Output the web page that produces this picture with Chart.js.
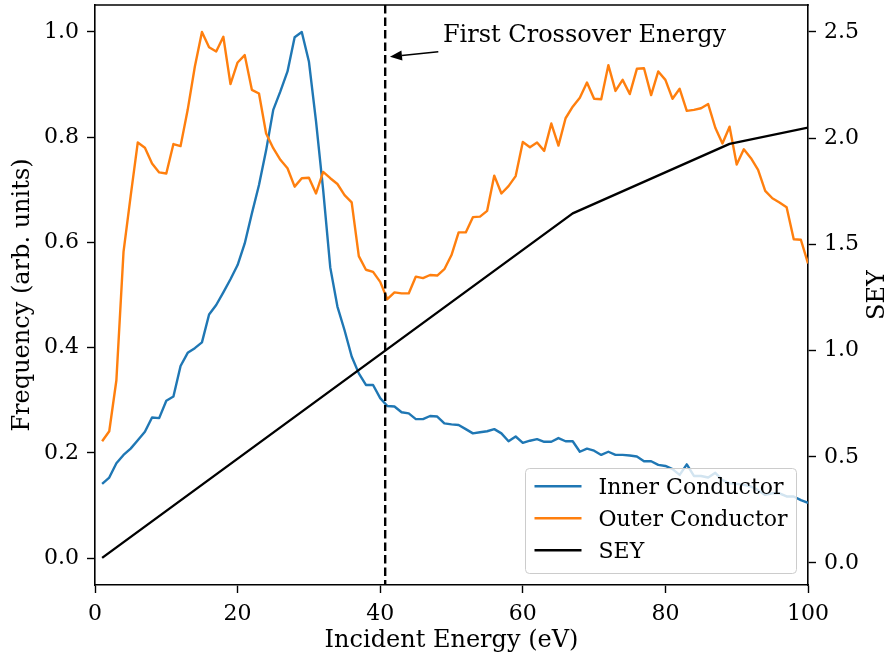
<!DOCTYPE html>
<html>
<head>
<meta charset="utf-8">
<script src="https://cdn.jsdelivr.net/npm/chart.js@4.4.1/dist/chart.umd.min.js"></script>
<style>
  html, body { margin: 0; padding: 0; background: #ffffff; }
  #wrap { width: 891px; height: 657px; }
</style>
</head>
<body>
<div id="wrap"><canvas id="chart" width="891" height="657"></canvas></div>
<script>
// Incident energies (eV) of the electron-frequency histograms
const energies = [
  1, 2, 3, 4, 5, 6, 7, 8, 9, 10,
  11, 12, 13, 14, 15, 16, 17, 18, 19, 20,
  21, 22, 23, 24, 25, 26, 27, 28, 29, 30,
  31, 32, 33, 34, 35, 36, 37, 38, 39, 40,
  41, 42, 43, 44, 45, 46, 47, 48, 49, 50,
  51, 52, 53, 54, 55, 56, 57, 58, 59, 60,
  61, 62, 63, 64, 65, 66, 67, 68, 69, 70,
  71, 72, 73, 74, 75, 76, 77, 78, 79, 80,
  81, 82, 83, 84, 85, 86, 87, 88, 89, 90,
  91, 92, 93, 94, 95, 96, 97, 98, 99, 100
];

// Normalised impact frequency on the inner conductor
const innerConductor = [
  0.141, 0.153, 0.180, 0.196, 0.208, 0.224, 0.240, 0.267, 0.266, 0.299,
  0.307, 0.365, 0.390, 0.399, 0.410, 0.463, 0.481, 0.505, 0.530, 0.557,
  0.598, 0.655, 0.709, 0.775, 0.852, 0.887, 0.925, 0.990, 1.000, 0.944,
  0.830, 0.700, 0.552, 0.478, 0.433, 0.383, 0.351, 0.329, 0.329, 0.304,
  0.289, 0.288, 0.277, 0.275, 0.264, 0.264, 0.270, 0.269, 0.256, 0.254,
  0.253, 0.245, 0.237, 0.239, 0.241, 0.245, 0.237, 0.222, 0.231, 0.219,
  0.223, 0.226, 0.221, 0.221, 0.228, 0.222, 0.222, 0.202, 0.208, 0.204,
  0.196, 0.202, 0.196, 0.196, 0.195, 0.193, 0.184, 0.184, 0.177, 0.175,
  0.169, 0.158, 0.178, 0.156, 0.156, 0.153, 0.162, 0.148, 0.142, 0.141,
  0.139, 0.136, 0.129, 0.120, 0.123, 0.123, 0.117, 0.117, 0.110, 0.105
];

// Normalised impact frequency on the outer conductor
const outerConductor = [
  0.222, 0.241, 0.338, 0.582, 0.688, 0.790, 0.780, 0.750, 0.733, 0.731,
  0.787, 0.783, 0.852, 0.934, 1.000, 0.971, 0.963, 0.991, 0.901, 0.942,
  0.956, 0.890, 0.883, 0.807, 0.779, 0.757, 0.741, 0.706, 0.722, 0.723,
  0.693, 0.734, 0.722, 0.711, 0.690, 0.676, 0.574, 0.548, 0.544, 0.525,
  0.492, 0.505, 0.503, 0.503, 0.535, 0.532, 0.538, 0.537, 0.549, 0.576,
  0.619, 0.619, 0.648, 0.649, 0.660, 0.727, 0.693, 0.707, 0.726, 0.791,
  0.781, 0.790, 0.774, 0.826, 0.784, 0.836, 0.858, 0.875, 0.904, 0.873,
  0.872, 0.937, 0.888, 0.909, 0.882, 0.930, 0.931, 0.880, 0.925, 0.909,
  0.873, 0.892, 0.850, 0.852, 0.855, 0.863, 0.818, 0.788, 0.820, 0.748,
  0.777, 0.760, 0.738, 0.698, 0.684, 0.676, 0.667, 0.606, 0.605, 0.560
];

// Secondary electron yield curve (piecewise linear model)
const seyEnergies = [1, 67, 89, 100];
const seyValues = [0.024, 1.646, 1.973, 2.050];

// Tick positions
const energyTicks = [0, 20, 40, 60, 80, 100];
const frequencyTicks = [0.0, 0.2, 0.4, 0.6, 0.8, 1.0];
const seyTicks = [0.0, 0.5, 1.0, 1.5, 2.0, 2.5];

// Energy where the SEY first reaches unity
const crossoverEnergy = 40.7;

const seriesLabels = ['Inner Conductor', 'Outer Conductor', 'SEY'];
const seriesColors = ['#1f77b4', '#ff7f0e', '#000000'];

const FONT = "'DejaVu Serif', 'Liberation Serif', serif";
const TICK_SIZE = 22;
const LEGEND_SIZE = 22;
const LABEL_SIZE = 24;

Chart.defaults.font.family = FONT;
Chart.defaults.color = '#000000';

const toPoints = (xs, ys) => xs.map((x, i) => ({ x: x, y: ys[i] }));

// Draws the top spine, the crossover marker with its note, the right-hand
// axis title and a boxed legend in the lower right of the plot area.
const decorations = {
  id: 'decorations',
  afterDatasetsDraw(chart) {
    const { ctx, chartArea: a, scales } = chart;
    const x = scales.x, y = scales.y;
    ctx.save();

    // top spine
    ctx.strokeStyle = '#000';
    ctx.lineWidth = 1.6;
    ctx.beginPath();
    ctx.moveTo(a.left - 0.8, a.top);
    ctx.lineTo(a.right + 0.8, a.top);
    ctx.stroke();

    // crossover marker
    const cx = x.getPixelForValue(crossoverEnergy);
    ctx.setLineDash([8.5, 4]);
    ctx.lineWidth = 2.4;
    ctx.beginPath();
    ctx.moveTo(cx, a.top);
    ctx.lineTo(cx, a.bottom);
    ctx.stroke();
    ctx.setLineDash([]);

    // note arrow
    const fromX = x.getPixelForValue(48.15), fromY = y.getPixelForValue(0.9625);
    const toX = x.getPixelForValue(41.37), toY = y.getPixelForValue(0.953);
    const ang = Math.atan2(toY - fromY, toX - fromX);
    const headLen = 12, headHalf = 5;
    const baseX = toX - headLen * Math.cos(ang), baseY = toY - headLen * Math.sin(ang);
    ctx.lineWidth = 1.4;
    ctx.beginPath();
    ctx.moveTo(fromX, fromY);
    ctx.lineTo(baseX, baseY);
    ctx.stroke();
    ctx.fillStyle = '#000';
    ctx.beginPath();
    ctx.moveTo(toX, toY);
    ctx.lineTo(baseX + headHalf * Math.sin(ang), baseY - headHalf * Math.cos(ang));
    ctx.lineTo(baseX - headHalf * Math.sin(ang), baseY + headHalf * Math.cos(ang));
    ctx.closePath();
    ctx.fill();

    // note text
    ctx.font = LABEL_SIZE + 'px ' + FONT;
    ctx.textAlign = 'left';
    ctx.textBaseline = 'alphabetic';
    ctx.fillText('First Crossover Energy', x.getPixelForValue(48.8), y.getPixelForValue(0.9816));

    // right axis title
    ctx.save();
    ctx.translate(878, (a.top + a.bottom) / 2);
    ctx.rotate(-Math.PI / 2);
    ctx.textAlign = 'center';
    ctx.textBaseline = 'middle';
    ctx.fillText('SEY', 0, 0);
    ctx.restore();

    ctx.restore();
  },
  afterDraw(chart) {
    const { ctx, chartArea: a } = chart;
    ctx.save();
    ctx.font = LEGEND_SIZE + 'px ' + FONT;
    const textW = Math.max(...seriesLabels.map(t => ctx.measureText(t).width));
    const padL = 9, lineLen = 47, gap = 17, padR = 9;
    const w = padL + lineLen + gap + textW + padR;
    const h = 105;
    const bx = a.right - 11.5 - w;
    const by = a.bottom - 11.5 - h;
    const r = 4;
    ctx.beginPath();
    ctx.moveTo(bx + r, by);
    ctx.lineTo(bx + w - r, by);
    ctx.arcTo(bx + w, by, bx + w, by + r, r);
    ctx.lineTo(bx + w, by + h - r);
    ctx.arcTo(bx + w, by + h, bx + w - r, by + h, r);
    ctx.lineTo(bx + r, by + h);
    ctx.arcTo(bx, by + h, bx, by + h - r, r);
    ctx.lineTo(bx, by + r);
    ctx.arcTo(bx, by, bx + r, by, r);
    ctx.closePath();
    ctx.fillStyle = 'rgba(255,255,255,0.8)';
    ctx.fill();
    ctx.strokeStyle = '#cccccc';
    ctx.lineWidth = 1;
    ctx.stroke();

    seriesLabels.forEach((label, i) => {
      const ry = by + 17.7 + i * 32;
      ctx.strokeStyle = seriesColors[i];
      ctx.lineWidth = 2.4;
      ctx.beginPath();
      ctx.moveTo(bx + padL, ry);
      ctx.lineTo(bx + padL + lineLen, ry);
      ctx.stroke();
      ctx.fillStyle = '#000';
      ctx.textAlign = 'left';
      ctx.textBaseline = 'alphabetic';
      ctx.fillText(label, bx + padL + lineLen + gap, ry + 0.365 * LEGEND_SIZE);
    });
    ctx.restore();
  }
};

const axisCommon = {
  grid: { display: true, drawOnChartArea: false, drawTicks: true, tickLength: 8, tickWidth: 1.4, tickColor: '#000' },
  border: { display: true, color: '#000', width: 1.6 },
  ticks: { font: { size: TICK_SIZE, family: FONT }, color: '#000', padding: 8, autoSkip: false, maxRotation: 0 }
};

// Fixed outer sizes for the axes so the plot area sits where it should
const fixedSize = (prop, size) => s => {
  s[prop] = size;
  s.paddingTop = 0; s.paddingBottom = 0; s.paddingLeft = 0; s.paddingRight = 0;
};

new Chart(document.getElementById('chart'), {
  type: 'line',
  data: {
    datasets: [
      { label: seriesLabels[0], data: toPoints(energies, innerConductor), borderColor: seriesColors[0], yAxisID: 'y', order: 3 },
      { label: seriesLabels[1], data: toPoints(energies, outerConductor), borderColor: seriesColors[1], yAxisID: 'y', order: 2 },
      { label: seriesLabels[2], data: toPoints(seyEnergies, seyValues), borderColor: seriesColors[2], yAxisID: 'y2', order: 1 }
    ]
  },
  options: {
    responsive: false,
    animation: false,
    layout: { padding: { top: 5, left: 0, right: 0, bottom: 0 } },
    elements: {
      point: { radius: 0, hoverRadius: 0 },
      line: { borderWidth: 2.4, tension: 0, borderJoinStyle: 'round', fill: false }
    },
    plugins: { legend: { display: false }, tooltip: { enabled: false } },
    scales: {
      x: {
        ...axisCommon,
        type: 'linear', position: 'bottom', min: 0, max: 100,
        afterBuildTicks: s => { s.ticks = energyTicks.map(v => ({ value: v })); },
        afterFit: fixedSize('height', 72),
        ticks: { ...axisCommon.ticks, callback: v => String(v) },
        title: { display: true, text: 'Incident Energy (eV)', font: { size: LABEL_SIZE, family: FONT }, color: '#000', padding: { top: 0, bottom: 2 } }
      },
      y: {
        ...axisCommon,
        type: 'linear', position: 'left', min: -0.0513, max: 1.0513,
        afterBuildTicks: s => { s.ticks = frequencyTicks.map(v => ({ value: v })); },
        afterFit: fixedSize('width', 95),
        ticks: { ...axisCommon.ticks, callback: v => v.toFixed(1) },
        title: { display: true, text: 'Frequency (arb. units)', font: { size: LABEL_SIZE, family: FONT }, color: '#000', padding: { top: 8, bottom: 0 } }
      },
      y2: {
        ...axisCommon,
        type: 'linear', position: 'right', min: -0.1036, max: 2.627,
        afterBuildTicks: s => { s.ticks = seyTicks.map(v => ({ value: v })); },
        afterFit: fixedSize('width', 83),
        ticks: { ...axisCommon.ticks, callback: v => v.toFixed(1) }
      }
    }
  },
  plugins: [decorations]
});
</script>
</body>
</html>
